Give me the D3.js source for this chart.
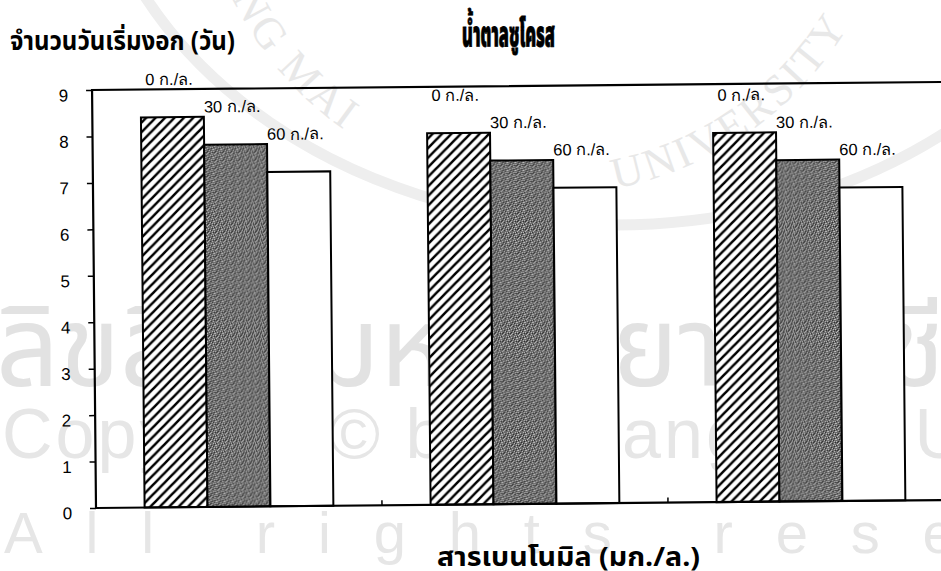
<!DOCTYPE html>
<html>
<head>
<meta charset="utf-8">
<script src="https://cdn.jsdelivr.net/npm/d3@7/dist/d3.min.js"></script>
<style>
  html, body { margin: 0; padding: 0; background: #fff; }
  svg { display: block; }
</style>
</head>
<body>
<svg id="chart" width="941" height="571"></svg>
<script>
// ---- data -------------------------------------------------------------
const groups = ["g1", "g2", "g3"];                 // benomyl levels (unlabelled on the axis)
const seriesNames = ["0 ก./ล.", "30 ก./ล.", "60 ก./ล."]; // sucrose levels
const sucrose0 = [8.4, 8.0, 7.95];
const sucrose30 = [7.8, 7.4, 7.35];
const sucrose60 = [7.2, 6.8, 6.75];
const yTickValues = [0, 1, 2, 3, 4, 5, 6, 7, 8, 9];
const titleText = "น้ำตาลซูโครส";
const yAxisTitle = "จำนวนวันเริ่มงอก (วัน)";
const xAxisTitle = "สารเบนโนมิล (มก./ล.)";
const watermarkThai = "ลิขสิทธิ์มหาวิทยาลัยเชียงใหม่";
const watermarkCopy = "Copyright© by Chiang Mai University";
const watermarkRights = "All rights reserved";
const sealLeft = "CHIANG MAI";
const sealRight = "UNIVERSITY";

const seriesValues = [sucrose0, sucrose30, sucrose60];
const rows = groups.map((g, i) => ({
  group: g,
  bars: seriesNames.map((s, j) => ({ series: s, value: seriesValues[j][i] }))
}));

// ---- layout -----------------------------------------------------------
const plot = { left: 96, top: 90, right: 954, bottom: 508 };
const tilt = -0.54;   // the printed page sits slightly askew
const thaiFont = "'Noto Sans Thai', 'Noto Sans Thai Looped', Loma, Garuda, 'Noto Sans', sans-serif";
const latinFont = "'Liberation Sans', Arial, Helvetica, sans-serif";

const svg = d3.select("#chart");
const defs = svg.append("defs");

// diagonal hatch for the 0 g/L bars
const hp = 9.5;
const hatch = defs.append("pattern")
  .attr("id", "hatch").attr("patternUnits", "userSpaceOnUse")
  .attr("width", hp).attr("height", hp);
hatch.append("rect").attr("width", hp).attr("height", hp).attr("fill", "#fff");
hatch.append("path")
  .attr("d", `M-2,2 L2,-2 M0,${hp} L${hp},0 M${hp - 2},${hp + 2} L${hp + 2},${hp - 2}`)
  .attr("stroke", "#000").attr("stroke-width", 2.5);

// speckled grey for the 30 g/L bars
const speckle = defs.append("pattern")
  .attr("id", "speckle").attr("patternUnits", "userSpaceOnUse")
  .attr("width", 8).attr("height", 8);
speckle.append("rect").attr("width", 8).attr("height", 8).attr("fill", "#6a6a6a");
const lightDots = [[0,0],[3,1],[6,2],[1,3],[5,4],[2,5],[7,6],[4,7],[6,0],[2,2],[7,4],[0,6]];
const darkDots = [[2,0],[7,1],[4,2],[0,4],[6,5],[3,6],[5,7],[1,1]];
speckle.selectAll("rect.l").data(lightDots).join("rect").attr("class", "l")
  .attr("x", d => d[0]).attr("y", d => d[1]).attr("width", 1).attr("height", 1).attr("fill", "#bdbdbd");
speckle.selectAll("rect.d").data(darkDots).join("rect").attr("class", "d")
  .attr("x", d => d[0]).attr("y", d => d[1]).attr("width", 1).attr("height", 1).attr("fill", "#2a2a2a");

const fills = { [seriesNames[0]]: "url(#hatch)", [seriesNames[1]]: "url(#speckle)", [seriesNames[2]]: "#fff" };

// ---- watermark (drawn first, behind the chart) ------------------------
const wm = svg.append("g").attr("class", "watermark");
const sealC = { x: 548, y: -157, r: 352 };
const a0 = 200 * Math.PI / 180, a1 = -20 * Math.PI / 180;
defs.append("path").attr("id", "sealArc")
  .attr("d", `M${sealC.x + sealC.r * Math.cos(a0)},${sealC.y + sealC.r * Math.sin(a0)} ` +
             `A${sealC.r},${sealC.r} 0 1,0 ${sealC.x + sealC.r * Math.cos(a1)},${sealC.y + sealC.r * Math.sin(a1)}`);
wm.append("ellipse").attr("cx", 615).attr("cy", -200).attr("rx", 530).attr("ry", 425)
  .attr("fill", "none").attr("stroke", "#eeeeee").attr("stroke-width", 11);
const arcLen = a => (200 - a) * Math.PI / 180 * sealC.r;
wm.append("text").attr("font-family", "'Liberation Serif', 'DejaVu Serif', serif")
  .attr("font-size", 44).attr("letter-spacing", 3).attr("fill", "#e8e8e8")
  .append("textPath").attr("href", "#sealArc").attr("startOffset", arcLen(125))
  .attr("text-anchor", "end").text(sealLeft);
wm.append("text").attr("font-family", "'Liberation Serif', 'DejaVu Serif', serif")
  .attr("font-size", 44).attr("letter-spacing", 3).attr("fill", "#e8e8e8")
  .append("textPath").attr("href", "#sealArc").attr("startOffset", arcLen(79))
  .attr("text-anchor", "start").text(sealRight);

wm.append("text").attr("x", -4).attr("y", 386)
  .attr("font-family", thaiFont).attr("font-size", 112).attr("fill", "#e2e2e2")
  .attr("textLength", 1240).attr("lengthAdjust", "spacingAndGlyphs")
  .text(watermarkThai);
wm.append("text").attr("x", 2).attr("y", 458)
  .attr("font-family", latinFont).attr("font-size", 70).attr("letter-spacing", 3)
  .attr("fill", "#e6e6e6")
  .text(watermarkCopy);
wm.append("text").attr("x", 4).attr("y", 553)
  .attr("font-family", latinFont).attr("font-size", 58).attr("fill", "#e6e6e6")
  .attr("textLength", 1235).attr("lengthAdjust", "spacing")
  .text(watermarkRights);

// ---- scales -------------------------------------------------------------
const x0 = d3.scaleBand().domain(groups).range([plot.left, plot.right])
  .paddingInner(0.34).paddingOuter(0.17);
const x1 = d3.scaleBand().domain(seriesNames).range([0, x0.bandwidth()]).padding(0);
const y = d3.scaleLinear().domain([0, 9]).range([plot.bottom, plot.top]);

// chart body, turned by the page tilt about the lower-left corner
const body = svg.append("g")
  .attr("transform", `rotate(${tilt},${plot.left},${plot.bottom})`);

// ---- bars ---------------------------------------------------------------
const gGroups = body.append("g").selectAll("g").data(rows).join("g")
  .attr("transform", d => `translate(${x0(d.group)},0)`);

gGroups.selectAll("rect").data(d => d.bars).join("rect")
  .attr("x", d => x1(d.series))
  .attr("y", d => y(d.value))
  .attr("width", x1.bandwidth())
  .attr("height", d => y(0) - y(d.value))
  .attr("fill", d => fills[d.series])
  .attr("stroke", "#000").attr("stroke-width", 2);

gGroups.selectAll("text").data(d => d.bars).join("text")
  .attr("x", d => x1(d.series) + x1.bandwidth() / 2 - 3)
  .attr("y", d => y(d.value) - 38)
  .attr("dy", "0.35em")
  .attr("text-anchor", "middle")
  .attr("font-family", latinFont).attr("font-size", 16.5).attr("fill", "#000")
  .text(d => d.series);

// ---- axes / frame -------------------------------------------------------
const yAxis = d3.axisLeft(y).tickValues(yTickValues).tickSize(6).tickPadding(18).tickSizeOuter(0);
const gy = body.append("g").attr("transform", `translate(${plot.left},0)`).call(yAxis);
gy.select(".domain").remove();
gy.selectAll(".tick line").attr("stroke", "#000").attr("stroke-width", 1.5);
gy.selectAll(".tick text")
  .attr("font-family", latinFont).attr("font-size", 17).attr("fill", "#000")
  .attr("dy", "0.62em");

// small boundary ticks along the category axis
const boundaries = d3.range(1, groups.length).map(i => plot.left + i * x0.step());
body.append("g").selectAll("line").data(boundaries).join("line")
  .attr("x1", d => d).attr("x2", d => d)
  .attr("y1", plot.bottom).attr("y2", plot.bottom - 5)
  .attr("stroke", "#000").attr("stroke-width", 1.5);

body.append("rect")
  .attr("x", plot.left).attr("y", plot.top)
  .attr("width", plot.right - plot.left).attr("height", plot.bottom - plot.top)
  .attr("fill", "none").attr("stroke", "#000").attr("stroke-width", 2.2);

// ---- titles -------------------------------------------------------------
svg.append("text").attr("x", 10).attr("y", 50)
  .attr("font-family", thaiFont).attr("font-weight", 700).attr("font-size", 27)
  .attr("textLength", 225).attr("lengthAdjust", "spacingAndGlyphs")
  .attr("fill", "#000").text(yAxisTitle);

svg.append("text").attr("x", 462).attr("y", 46)
  .attr("font-family", thaiFont).attr("font-weight", 900).attr("font-size", 36)
  .attr("textLength", 93).attr("lengthAdjust", "spacingAndGlyphs")
  .attr("fill", "#000").attr("stroke", "#000").attr("stroke-width", 0.8)
  .text(titleText);

svg.append("text").attr("x", 437).attr("y", 566)
  .attr("font-family", thaiFont).attr("font-weight", 700).attr("font-size", 26)
  .attr("textLength", 263).attr("lengthAdjust", "spacingAndGlyphs")
  .attr("fill", "#000").text(xAxisTitle);
</script>
</body>
</html>
